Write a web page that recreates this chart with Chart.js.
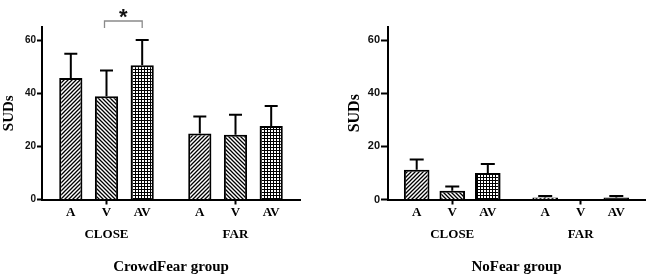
<!DOCTYPE html>
<html>
<head>
<meta charset="utf-8">
<script src="https://cdn.jsdelivr.net/npm/chart.js@4.4.1/dist/chart.umd.min.js"></script>
<style>
  html, body { margin: 0; padding: 0; background: #fff; }
  #wrap { position: relative; width: 654px; height: 280px; }
  canvas { position: absolute; top: 0; }
  #c1 { left: 0; }
  #c2 { left: 327px; }
</style>
</head>
<body>
<div id="wrap">
  <canvas id="c1" width="327" height="280"></canvas>
  <canvas id="c2" width="327" height="280"></canvas>
</div>
<script>
// ---- data ----
const categories = ['CLOSE', 'FAR'];
const conditions = ['A', 'V', 'AV'];
const yTickStep = 20;
const yMax = 65;

const crowdA = [45.8, 24.9];
const crowdV = [38.9, 24.4];
const crowdAV = [50.6, 27.7];
const crowdErrA = [9.1, 6.4];
const crowdErrV = [9.7, 7.5];
const crowdErrAV = [9.5, 7.5];

const noFearA = [11.2, 0.8];
const noFearV = [3.3, 0.0];
const noFearAV = [10.0, 0.8];
const noFearErrA = [3.9, 0.5];
const noFearErrV = [1.6, 0.0];
const noFearErrAV = [3.4, 0.5];

const groupTitles = ['CrowdFear group', 'NoFear group'];
const significance = '*';

// ---- patterns ----
function makePattern(kind) {
  const t = document.createElement('canvas');
  const s = kind === 'check' ? 3 : 4;
  t.width = s; t.height = s;
  const c = t.getContext('2d');
  c.fillStyle = '#fff';
  c.fillRect(0, 0, s, s);
  c.strokeStyle = '#000';
  c.fillStyle = '#000';
  c.lineWidth = 1.3;
  if (kind === 'fwd') {
    c.beginPath();
    c.moveTo(-1, s + 1); c.lineTo(s + 1, -1);
    c.moveTo(-1, 1); c.lineTo(1, -1);
    c.moveTo(s - 1, s + 1); c.lineTo(s + 1, s - 1);
    c.stroke();
  } else if (kind === 'back') {
    c.beginPath();
    c.moveTo(-1, -1); c.lineTo(s + 1, s + 1);
    c.moveTo(s - 1, -1); c.lineTo(s + 1, 1);
    c.moveTo(-1, s - 1); c.lineTo(1, s + 1);
    c.stroke();
  } else {
    c.fillRect(0, 0, s, s);
    c.fillStyle = '#fff';
    c.fillRect(1, 1, 2, 2);
  }
  const tmp = document.createElement('canvas').getContext('2d');
  return tmp.createPattern(t, 'repeat');
}
const patterns = [makePattern('fwd'), makePattern('back'), makePattern('check')];

// ---- plugins ----
const errorBarPlugin = {
  id: 'errorBars',
  afterDatasetsDraw(chart, args, opts) {
    const ctx = chart.ctx;
    const y = chart.scales.y;
    ctx.save();
    ctx.strokeStyle = '#000';
    ctx.lineWidth = 2;
    chart.data.datasets.forEach((ds, di) => {
      const meta = chart.getDatasetMeta(di);
      meta.data.forEach((bar, i) => {
        const err = ds.errors[i];
        if (!err) return;
        const top = y.getPixelForValue(ds.data[i] + err);
        const half = opts.cap / 2;
        ctx.beginPath();
        ctx.moveTo(bar.x, bar.y);
        ctx.lineTo(bar.x, top);
        ctx.moveTo(bar.x - half, top);
        ctx.lineTo(bar.x + half, top);
        ctx.stroke();
      });
    });
    ctx.restore();
  }
};

const condLabelPlugin = {
  id: 'condLabels',
  afterDraw(chart) {
    const ctx = chart.ctx;
    ctx.save();
    ctx.fillStyle = '#000';
    ctx.font = 'bold 13px "Liberation Serif"';
    ctx.textAlign = 'center';
    ctx.textBaseline = 'middle';
    chart.data.datasets.forEach((ds, di) => {
      chart.getDatasetMeta(di).data.forEach(bar => {
        ctx.fillText(conditions[di], bar.x, chart.chartArea.bottom + 13);
      });
    });
    ctx.restore();
  }
};

const sigPlugin = {
  id: 'sig',
  afterDraw(chart, args, opts) {
    if (!opts.show) return;
    const ctx = chart.ctx;
    const b1 = chart.getDatasetMeta(1).data[0];
    const b2 = chart.getDatasetMeta(2).data[0];
    const top = chart.chartArea.top;
    const yb = top - 6;
    ctx.save();
    ctx.strokeStyle = '#8a8a8a';
    ctx.lineWidth = 1.3;
    ctx.beginPath();
    ctx.moveTo(b1.x - 2, yb + 7);
    ctx.lineTo(b1.x - 2, yb);
    ctx.lineTo(b2.x, yb);
    ctx.lineTo(b2.x, yb + 7);
    ctx.stroke();
    ctx.fillStyle = '#111';
    ctx.font = 'bold 22px "Liberation Sans"';
    ctx.textAlign = 'center';
    ctx.textBaseline = 'alphabetic';
    ctx.fillText(significance, (b1.x - 2 + b2.x) / 2, 24);
    ctx.restore();
  }
};

function build(canvasId, a, v, av, ea, ev, eav, title, cfg) {
  return new Chart(document.getElementById(canvasId), {
    type: 'bar',
    data: {
      labels: categories,
      datasets: [
        { label: conditions[0], data: a, errors: ea, backgroundColor: patterns[0] },
        { label: conditions[1], data: v, errors: ev, backgroundColor: patterns[1] },
        { label: conditions[2], data: av, errors: eav, backgroundColor: patterns[2] }
      ].map(d => Object.assign(d, {
        borderColor: '#000', borderWidth: 2, borderSkipped: 'start',
        categoryPercentage: 0.83, barPercentage: cfg.barPct
      }))
    },
    options: {
      responsive: false,
      animation: false,
      layout: { padding: { left: cfg.padLeft, right: cfg.padRight, top: 27, bottom: 0 } },
      plugins: {
        legend: { display: false },
        tooltip: { enabled: false },
        errorBars: { cap: cfg.cap },
        sig: { show: cfg.sig }
      },
      scales: {
        x: {
          afterFit: s => { s.height = 80.5; },
          grid: { display: true, drawOnChartArea: false, offset: false, tickLength: 5, tickWidth: 2, tickColor: '#000' },
          border: { display: true, color: '#000', width: 2 },
          ticks: { color: '#000', padding: 22, font: { family: 'Liberation Serif', size: 13, weight: 'bold' } },
          title: { display: true, text: title, color: '#000', padding: { top: 0, bottom: 4 },
                   font: { family: 'Liberation Serif', size: 15, weight: 'bold' } }
        },
        y: {
          min: 0, max: yMax,
          afterFit: s => { s.width = cfg.yWidth; },
          afterBuildTicks: s => { s.ticks = s.ticks.filter(t => t.value % yTickStep === 0); },
          grid: { display: true, drawOnChartArea: false, tickLength: cfg.tickLen, tickWidth: 2, tickColor: '#000' },
          border: { display: true, color: '#000', width: 2 },
          ticks: { stepSize: yTickStep, color: '#111', padding: 1,
                   font: { family: 'Liberation Sans', size: cfg.tickFont, weight: 'bold' } },
          title: { display: true, text: 'SUDs', color: '#000', padding: { top: 0, bottom: 0 },
                   font: { family: 'Liberation Serif', size: cfg.ytFont, weight: 'bold' } }
        }
      }
    },
    plugins: [errorBarPlugin, condLabelPlugin, sigPlugin]
  });
}

build('c1', crowdA, crowdV, crowdAV, crowdErrA, crowdErrV, crowdErrAV, groupTitles[0],
      { padLeft: 0, padRight: 27, yWidth: 42, barPct: 0.65, cap: 13, sig: true, tickLen: 5, tickFont: 10, ytFont: 15 });
build('c2', noFearA, noFearV, noFearAV, noFearErrA, noFearErrV, noFearErrAV, groupTitles[1],
      { padLeft: 18, padRight: 9, yWidth: 43, barPct: 0.72, cap: 14, sig: false, tickLen: 7, tickFont: 11, ytFont: 16 });
</script>
</body>
</html>
